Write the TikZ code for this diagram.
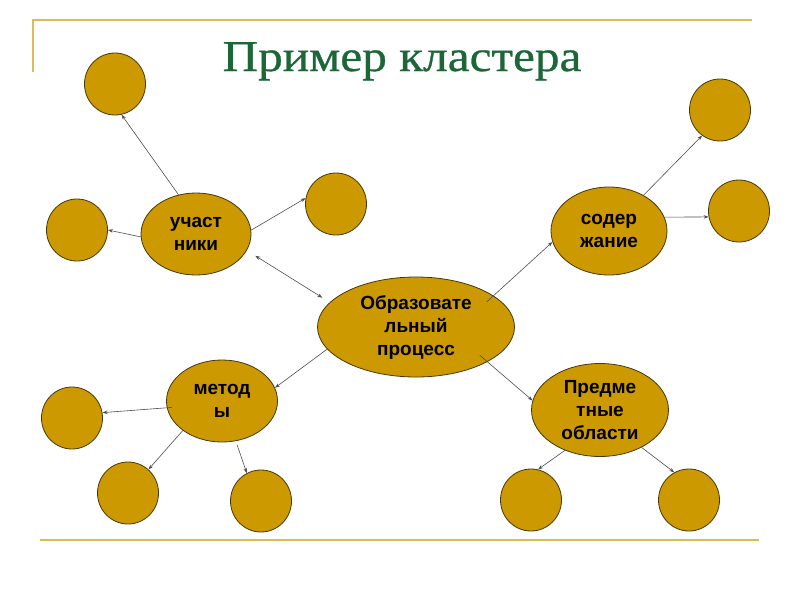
\documentclass[tikz,border=0pt]{standalone}
\usepackage{fontspec}
\setmainfont{Liberation Serif}
\newfontfamily\nodefont{Liberation Sans}
\newfontfamily\titlefont[FakeStretch=1.12,FakeBold=0.7]{Liberation Serif}
\usetikzlibrary{shapes.geometric,arrows.meta}
\definecolor{gold}{RGB}{204,153,0}
\definecolor{outline}{RGB}{70,55,10}
\definecolor{framecol}{RGB}{221,187,85}
\definecolor{titlegreen}{RGB}{28,102,56}
\begin{document}
\begin{tikzpicture}[x=1pt,y=-1pt,
  bubble/.style={ellipse, draw=outline, line width=0.8pt, fill=gold, inner sep=0pt,
    align=center, font=\nodefont\bfseries\fontsize{19}{23}\selectfont},
  leaf/.style={ellipse, draw=outline, line width=0.8pt, fill=gold, inner sep=0pt,
    minimum width=61pt, minimum height=62pt},
  mytip/.tip={Stealth[length=5pt,width=3.5pt]},
  link/.style={draw=black!70, line width=0.6pt, -mytip},
  dlink/.style={draw=black!70, line width=0.6pt, mytip-mytip},
  frameline/.style={draw=framecol, line width=2pt}]
\useasboundingbox (0,0) rectangle (800,600);
% frame lines
\draw[frameline] (33,72) -- (33,20) -- (752,20);
\draw[frameline] (40,540) -- (759,540);
% title
\node[text=titlegreen, font=\titlefont\fontsize{44}{50}\selectfont, anchor=base, inner sep=0pt] (title) at (402,71) {Пример кластера};
% main bubbles
\node[bubble, minimum width=110pt, minimum height=82pt] (u) at (196,234) {участ\\ники};
\node[bubble, minimum width=197pt, minimum height=100pt] (c) at (416,327) {Образовате\\льный\\процесс};
\node[bubble, minimum width=116pt, minimum height=88pt] (s) at (609,231) {содер\\жание};
\node[bubble, minimum width=111pt, minimum height=82pt] (m) at (222,401) {метод\\ы};
\node[bubble, minimum width=137pt, minimum height=93pt] (p) at (600,410) {Предме\\тные\\области};
% leaves
\node[leaf] (l1) at (115,84) {};
\node[leaf] (l2) at (77,230) {};
\node[leaf] (l3) at (336,204) {};
\node[leaf] (l4) at (720,110) {};
\node[leaf] (l5) at (739,211) {};
\node[leaf] (l6) at (72,418) {};
\node[leaf] (l7) at (128,493) {};
\node[leaf] (l8) at (261,501) {};
\node[leaf] (l9) at (531,500) {};
\node[leaf] (l10) at (689,500) {};
% connectors
\draw[link] (u.114) -- (l1.-78);
\draw[link] (u.183) -- (l2.0);
\draw[link] (u.4) -- (l3.169);
\draw[dlink, shorten <=10pt, shorten >=8.7pt] (u.-18) -- (c.164);
\draw[link, shorten <=-9pt] (c.22.7) -- (s.191.7);
\draw[link] (s.46) -- (l4.235);
\draw[link] (s.14) -- (l5.191);
\draw[link] (c.194) -- (m.14);
\draw[link, shorten <=-5pt] (m.187) -- (l6.10);
\draw[link] (m.217) -- (l7.49);
\draw[link, shorten <=4pt] (m.-71) -- (l8.117);
\draw[link, shorten <=-10pt] (c.-26) -- (p.172);
\draw[link] (p.229) -- (l9.77);
\draw[link] (p.-42) -- (l10.118);
\end{tikzpicture}
\end{document}
